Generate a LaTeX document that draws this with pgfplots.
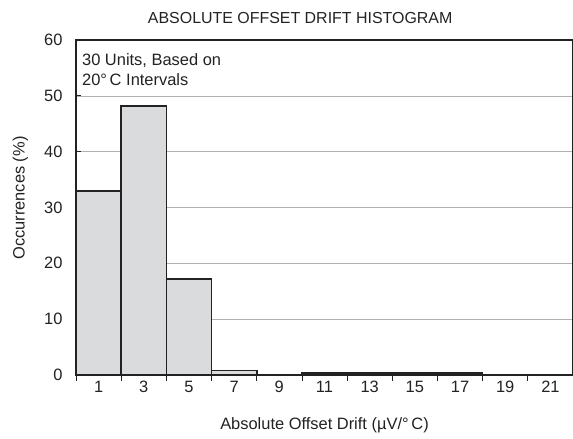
\documentclass[border=0pt]{standalone}
\usepackage{fontspec}
\setmainfont{Liberation Sans}
\usepackage{pgfplots}
\pgfplotsset{compat=1.18}
\definecolor{barfill}{RGB}{218,219,221}
\definecolor{axcol}{RGB}{34,34,34}
\begin{document}
\fontsize{16}{19}\selectfont
\begin{tikzpicture}
\begin{axis}[
  scale only axis, width=497bp, height=335bp,
  xmin=0, xmax=22, ymin=0, ymax=60,
  axis line style={line width=1.5bp, axcol},
  xtick={1,3,...,21},
  major x tick style={draw=none},
  minor xtick={0,2,...,22},
  minor tick length=6bp,
  minor x tick style={yshift=-6bp, line width=0.8bp, axcol},
  ytick={0,10,...,60},
  major tick length=5bp,
  major y tick style={line width=0.8bp, axcol},
  tick pos=left,
  ymajorgrids,
  grid style={line width=0.4bp, gray!60},
  /pgf/number format/assume math mode=true,
  ticklabel style={font=\fontsize{16.5}{19}\selectfont, text=axcol},
  xticklabel style={yshift=-1bp},
  yticklabel style={xshift=-8bp},
  xlabel={Absolute Offset Drift (µV/°\,C)},
  ylabel={Occurrences (\%)},
  label style={font=\fontsize{16.5}{19}\selectfont, text=axcol},
  xlabel style={yshift=-14bp},
  ylabel style={at={(rel axis cs:-0.112,0.528)}, anchor=center},
  clip=false,
]
\addplot[ybar, bar width=2, fill=barfill, draw=axcol, line width=1.6bp]
  coordinates {(1,33) (3,48.2) (5,17.2) (7,0.8) (11,0.35) (13,0.35) (15,0.35) (17,0.35)};
\node[anchor=north west, align=left, font=\fontsize{16.5}{20}\selectfont, text=axcol, inner sep=0pt]
  at (rel axis cs:0.012,0.96) {30 Units, Based on\\20°\,C Intervals};
\node[anchor=base, font=\fontsize{16}{19}\selectfont, text=axcol, inner sep=0pt]
  at (rel axis cs:0.451,1.0507) {ABSOLUTE OFFSET DRIFT HISTOGRAM};
\coordinate (ll) at (rel axis cs:0,0);
\coordinate (ur) at (rel axis cs:1,1);
\end{axis}
\pgfresetboundingbox
\path ([shift={(-76bp,-64bp)}]ll) rectangle ([shift={(0bp,40bp)}]ur);
\end{tikzpicture}
\end{document}
